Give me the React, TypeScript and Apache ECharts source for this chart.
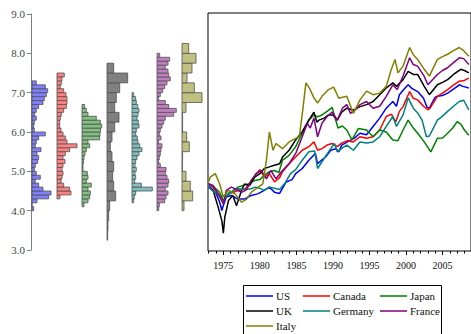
import React, { useEffect, useRef } from 'react';
import * as echarts from 'echarts';

const countries = ['US', 'Canada', 'Japan', 'UK', 'Germany', 'France', 'Italy'];
const lineColors = ['#0000ff', '#ff0000', '#008000', '#000000', '#008080', '#800080', '#808000'];
const histColors = ['#8080ff', '#ff8080', '#80c080', '#808080', '#80c0c0', '#c080c0', '#c0c080'];

// Histogram bins: first bin start, bin width, relative frequencies (bottom -> top)
const histStart = [4.0, 4.3, 4.1, 3.25, 4.2, 4.0, 4.0];
const histBinWidth = [0.1, 0.1, 0.1, 0.25, 0.1, 0.1, 0.25];
const usHist = [1.7, 0, 5, 16.7, 19, 11, 6.7, 3.3, 8.3, 4.3, 2.3, 3.3, 5.7, 6.7, 5, 9, 3.3, 4.3, 6.7, 13.3, 2.3, 1.7, 2.3, 4.3, 2.7, 4.3, 6.7, 11, 12.3, 14.3, 15.7, 13.3, 4.3];
const canadaHist = [3, 14, 12.7, 6.7, 4, 5, 6, 5, 6, 8, 6, 8.3, 12.7, 20, 10, 8.3, 6, 4, 2.7, 2.7, 3.3, 4.3, 6.7, 9.3, 10, 10, 9, 6.7, 3.3, 4.3, 5, 7.3];
const japanHist = [2, 6, 7.7, 8.3, 6, 9.3, 4.3, 6, 5.3, 1, 1, 1.5, 2, 3, 4.3, 7.7, 6, 17.7, 18, 18.5, 19.7, 18.3, 14.3, 6, 4.3, 2.7];
const ukHist = [0.7, 1, 1.7, 2.7, 8.7, 6.7, 5.7, 6.7, 5, 3.3, 5, 7.7, 12, 7.7, 9.3, 12.7, 20.7, 6.7];
const germanyHist = [1.7, 2.3, 3.7, 20.3, 9.3, 2.7, 3.7, 3, 4.3, 3, 3.7, 5, 7, 10, 7.7, 6, 5.3, 3.7, 4.3, 7, 6.3, 5, 6, 7, 5.7, 4.3, 3.7, 1.7];
const franceHist = [1.7, 2.3, 7.7, 9, 11, 8.3, 11, 11.7, 10, 8.3, 9, 3.3, 1.7, 2.3, 3.3, 4, 5, 1.7, 4, 2.3, 3.3, 5, 6.7, 8.3, 16.7, 19.3, 11.7, 8.3, 1.7, 3.3, 5.7, 7.7, 10, 13.3, 11.7, 11, 8.3, 11, 12.7, 2.7];
const italyHist = [2, 10.7, 8.3, 4, 0.4, 0.6, 7.3, 4.7, 0.6, 0.6, 4, 20, 12.3, 5, 10, 14, 6.7];
const hists = [usHist, canadaHist, japanHist, ukHist, germanyHist, franceHist, italyHist];

// Log price index series: [year, value]
const usSeries = [[1973.0, 4.65], [1973.5, 4.55], [1974.0, 4.45], [1974.5, 4.23], [1974.8, 4.02], [1975.0, 4.15], [1975.4, 4.36], [1976.1, 4.4], [1977.0, 4.31], [1977.9, 4.31], [1978.8, 4.4], [1979.7, 4.44], [1980.6, 4.53], [1981.3, 4.61], [1982.0, 4.48], [1982.7, 4.45], [1983.6, 4.74], [1984.4, 4.8], [1984.9, 4.95], [1985.8, 5.08], [1986.7, 5.29], [1987.6, 5.46], [1987.9, 5.2], [1988.5, 5.3], [1989.0, 5.37], [1989.7, 5.54], [1990.4, 5.58], [1990.8, 5.5], [1991.2, 5.67], [1992.0, 5.75], [1992.9, 5.84], [1993.7, 5.97], [1994.6, 5.93], [1995.5, 6.14], [1996.4, 6.35], [1997.3, 6.6], [1998.2, 6.77], [1998.7, 6.65], [1999.1, 6.94], [1999.6, 7.05], [2000.3, 7.19], [2000.8, 7.1], [2001.6, 7.02], [2002.4, 6.85], [2002.9, 6.62], [2003.2, 6.6], [2004.0, 6.88], [2004.3, 6.9], [2005.0, 6.92], [2005.7, 6.98], [2006.5, 7.08], [2007.3, 7.19], [2007.8, 7.15], [2008.6, 7.11]];
const canadaSeries = [[1973.0, 4.7], [1973.6, 4.6], [1974.3, 4.45], [1975.0, 4.27], [1975.7, 4.44], [1976.4, 4.48], [1977.1, 4.53], [1978.0, 4.57], [1978.8, 4.74], [1979.5, 4.95], [1980.0, 5.05], [1980.6, 4.86], [1981.3, 4.95], [1982.0, 4.74], [1982.7, 4.85], [1983.1, 5.0], [1984.0, 5.2], [1984.9, 5.37], [1985.8, 5.54], [1986.7, 5.63], [1987.4, 5.75], [1987.9, 5.54], [1988.5, 5.58], [1989.2, 5.67], [1989.9, 5.71], [1990.6, 5.63], [1991.2, 5.72], [1992.0, 5.78], [1992.8, 5.75], [1993.7, 5.88], [1994.6, 5.84], [1995.5, 5.88], [1996.4, 6.05], [1997.3, 6.39], [1998.0, 6.45], [1998.6, 6.25], [1999.1, 6.52], [1999.6, 6.64], [2000.5, 7.02], [2001.0, 6.85], [2001.6, 6.81], [2002.4, 6.65], [2003.0, 6.56], [2003.3, 6.6], [2004.3, 6.9], [2005.0, 6.98], [2005.7, 7.07], [2006.5, 7.18], [2007.3, 7.28], [2008.0, 7.3], [2008.6, 7.36]];
const japanSeries = [[1973.0, 4.7], [1973.7, 4.62], [1974.5, 4.48], [1975.0, 4.27], [1975.7, 4.45], [1976.4, 4.53], [1977.0, 4.61], [1977.7, 4.65], [1978.4, 4.69], [1979.3, 4.78], [1980.0, 4.8], [1980.6, 4.91], [1981.3, 5.0], [1982.0, 5.03], [1982.6, 4.98], [1983.1, 5.29], [1984.0, 5.41], [1984.9, 5.63], [1985.8, 5.97], [1986.7, 6.3], [1987.4, 6.43], [1987.9, 6.38], [1988.5, 6.43], [1989.2, 6.52], [1989.9, 6.62], [1990.3, 6.35], [1990.7, 6.1], [1991.3, 6.15], [1991.9, 6.05], [1992.6, 5.8], [1993.5, 6.09], [1994.6, 6.05], [1995.5, 5.88], [1996.4, 6.05], [1997.3, 6.0], [1998.2, 5.8], [1998.9, 5.78], [1999.6, 6.05], [2000.3, 6.3], [2001.0, 6.1], [2001.6, 5.97], [2002.5, 5.75], [2003.4, 5.5], [2004.3, 5.84], [2005.0, 5.85], [2005.7, 5.97], [2006.4, 6.1], [2007.0, 6.26], [2007.5, 6.2], [2008.0, 6.05], [2008.6, 5.92]];
const ukSeries = [[1973.0, 4.6], [1973.6, 4.53], [1974.3, 4.1], [1974.8, 3.76], [1975.0, 3.45], [1975.2, 3.85], [1975.7, 4.27], [1976.3, 4.4], [1976.8, 4.14], [1977.5, 4.53], [1977.9, 4.69], [1978.6, 4.65], [1979.3, 4.86], [1980.0, 4.95], [1980.6, 5.08], [1981.3, 5.12], [1982.0, 5.16], [1982.7, 5.2], [1983.1, 5.37], [1984.0, 5.54], [1984.9, 5.8], [1985.8, 6.01], [1986.7, 6.3], [1987.4, 6.5], [1987.8, 6.25], [1988.1, 6.3], [1988.8, 6.35], [1989.4, 6.43], [1990.0, 6.43], [1990.6, 6.3], [1991.2, 6.5], [1991.9, 6.6], [1992.8, 6.55], [1993.7, 6.64], [1994.6, 6.69], [1995.5, 6.77], [1996.4, 6.94], [1997.3, 7.11], [1998.2, 7.24], [1998.7, 7.15], [1999.6, 7.32], [2000.3, 7.53], [2001.0, 7.45], [2001.6, 7.45], [2002.5, 7.15], [2003.2, 6.94], [2004.3, 7.19], [2005.0, 7.25], [2005.7, 7.32], [2006.5, 7.45], [2007.5, 7.58], [2008.0, 7.55], [2008.6, 7.49]];
const germanySeries = [[1973.0, 4.62], [1973.6, 4.5], [1974.5, 4.4], [1975.0, 4.38], [1975.7, 4.42], [1976.4, 4.53], [1977.1, 4.57], [1978.0, 4.55], [1978.8, 4.57], [1979.3, 4.61], [1980.0, 4.58], [1980.6, 4.53], [1981.3, 4.61], [1982.0, 4.58], [1982.7, 4.55], [1983.4, 4.7], [1984.2, 4.95], [1984.9, 5.05], [1985.8, 5.29], [1986.7, 5.5], [1987.5, 5.52], [1987.9, 5.08], [1988.5, 5.25], [1989.4, 5.5], [1990.2, 5.71], [1990.6, 5.5], [1991.3, 5.6], [1991.9, 5.67], [1992.8, 5.54], [1993.7, 5.75], [1994.6, 5.72], [1995.5, 5.75], [1996.4, 5.88], [1997.3, 6.14], [1998.2, 6.39], [1998.7, 6.14], [1999.6, 6.43], [2000.3, 6.86], [2001.0, 6.6], [2001.6, 6.48], [2002.2, 6.3], [2002.8, 5.88], [2003.2, 5.9], [2004.3, 6.3], [2005.0, 6.4], [2005.7, 6.52], [2006.5, 6.65], [2007.3, 6.77], [2007.9, 6.8], [2008.6, 6.56]];
const franceSeries = [[1973.0, 4.69], [1973.6, 4.65], [1974.5, 4.36], [1975.0, 4.19], [1975.4, 4.53], [1976.1, 4.61], [1976.8, 4.55], [1977.5, 4.48], [1978.2, 4.55], [1978.8, 4.78], [1979.5, 4.95], [1980.2, 5.03], [1980.9, 4.82], [1981.5, 5.03], [1982.2, 4.82], [1983.1, 5.03], [1984.0, 5.2], [1984.9, 5.46], [1985.8, 5.88], [1986.5, 6.22], [1986.9, 6.1], [1987.4, 6.35], [1987.9, 5.88], [1988.5, 6.22], [1989.2, 6.39], [1989.9, 6.5], [1990.6, 6.3], [1991.3, 6.6], [1991.9, 6.69], [1992.4, 6.47], [1993.3, 6.6], [1993.7, 6.69], [1994.6, 6.77], [1995.5, 6.6], [1996.4, 6.65], [1997.3, 6.9], [1998.2, 7.19], [1998.8, 7.07], [1999.6, 7.41], [2000.5, 7.87], [2001.0, 7.7], [2001.6, 7.66], [2002.5, 7.4], [2003.0, 7.19], [2004.3, 7.45], [2005.0, 7.55], [2005.7, 7.62], [2006.5, 7.75], [2007.3, 7.87], [2007.9, 7.85], [2008.6, 7.7]];
const italySeries = [[1973.0, 4.75], [1973.2, 4.86], [1973.9, 4.95], [1974.5, 4.69], [1975.0, 4.36], [1975.7, 4.53], [1976.6, 4.44], [1977.5, 4.23], [1978.2, 4.31], [1978.8, 4.48], [1979.5, 4.57], [1980.4, 4.69], [1980.9, 5.29], [1981.3, 6.0], [1981.8, 5.54], [1982.2, 5.71], [1983.1, 5.58], [1984.0, 5.75], [1984.5, 5.8], [1985.4, 5.88], [1985.9, 6.6], [1986.3, 7.24], [1986.8, 7.1], [1987.4, 6.86], [1987.9, 6.73], [1988.5, 6.9], [1989.4, 7.07], [1990.1, 7.13], [1990.8, 6.85], [1991.9, 6.9], [1992.8, 6.47], [1993.7, 6.81], [1994.6, 7.03], [1995.5, 6.94], [1996.4, 6.98], [1997.3, 7.15], [1998.0, 7.58], [1998.5, 7.83], [1998.9, 7.49], [1999.6, 7.66], [2000.5, 8.13], [2001.0, 7.95], [2001.6, 7.83], [2002.5, 7.58], [2003.2, 7.41], [2004.3, 7.83], [2005.0, 7.9], [2005.7, 7.96], [2006.5, 8.05], [2007.3, 8.13], [2007.9, 8.05], [2008.6, 7.91]];
const lineSeries = [usSeries, canadaSeries, japanSeries, ukSeries, germanySeries, franceSeries, italySeries];

const yTicks = [3, 4, 5, 6, 7, 8, 9];
const majorYears = [1975, 1980, 1985, 1990, 1995, 2000, 2005];
const allYears = [1973, 1974, 1975, 1976, 1977, 1978, 1979, 1980, 1981, 1982, 1983, 1984, 1985, 1986, 1987, 1988, 1989, 1990, 1991, 1992, 1993, 1994, 1995, 1996, 1997, 1998, 1999, 2000, 2001, 2002, 2003, 2004, 2005, 2006, 2007, 2008];

const FONT = '"Liberation Serif", "Times New Roman", serif';
const LEN_SCALE = 25; // frequency units per histogram column

export default function App() {
  const ref = useRef<HTMLDivElement>(null);
  useEffect(() => {
    if (!ref.current) return;
    const chart = echarts.init(ref.current, undefined, { renderer: 'svg' });

    const histSeries = hists.map((h, i) => {
      const base = i + 0.04;
      const bw = histBinWidth[i];
      return {
        type: 'custom',
        name: countries[i] + ' distribution',
        xAxisIndex: 0,
        yAxisIndex: 0,
        silent: true,
        data: h.map((v, k) => [histStart[i] + k * bw, v]),
        renderItem: (params: any, api: any) => {
          const lo = api.value(0);
          const len = api.value(1);
          const a = api.coord([base, lo + bw]);
          const b = api.coord([base + len / LEN_SCALE, lo]);
          return {
            type: 'rect',
            shape: { x: a[0], y: a[1], width: b[0] - a[0], height: b[1] - a[1] },
            style: { fill: histColors[i], stroke: '#505050', lineWidth: 0.8 },
          };
        },
      };
    });

    const lines = lineSeries.map((d, i) => ({
      type: 'line',
      name: countries[i],
      xAxisIndex: 1,
      yAxisIndex: 1,
      data: d,
      symbol: 'none',
      showSymbol: false,
      lineStyle: { color: lineColors[i], width: 1.5 },
      itemStyle: { color: lineColors[i] },
    }));

    const legendBase = {
      orient: 'vertical',
      top: 290,
      height: 50,
      padding: 0,
      icon: 'rect',
      itemWidth: 27,
      itemHeight: 1.5,
      itemGap: 3,
      selectedMode: false,
      textStyle: { fontFamily: FONT, fontSize: 11, color: '#111', lineHeight: 12, padding: [0, 0, 0, -2] },
    };

    chart.setOption({
      animation: false,
      backgroundColor: '#fff',
      grid: [
        { left: 31, top: 14, width: 175, height: 236 },
        { left: 208, top: 13, width: 266, height: 238, show: true, borderColor: '#000', borderWidth: 1, backgroundColor: 'transparent' },
      ],
      xAxis: [
        { gridIndex: 0, type: 'value', min: 0, max: 7, show: false },
        {
          gridIndex: 1, type: 'value', min: 1972.9, max: 2008.9, position: 'bottom',
          axisLine: { show: false }, splitLine: { show: false },
          axisTick: { show: true, customValues: majorYears, length: 4, lineStyle: { color: '#000' } },
          axisLabel: { customValues: majorYears, formatter: (v: number) => String(v), fontFamily: FONT, fontSize: 10, color: '#111', margin: 9 },
        },
        {
          gridIndex: 1, type: 'value', min: 1972.9, max: 2008.9, position: 'bottom',
          axisLine: { show: false }, splitLine: { show: false }, axisLabel: { show: false },
          axisTick: { show: true, customValues: allYears, length: 2.5, lineStyle: { color: '#000' } },
        },
      ],
      yAxis: [
        {
          gridIndex: 0, type: 'value', min: 3, max: 9, interval: 1,
          axisLine: { show: true, lineStyle: { color: '#808080' } },
          axisTick: { show: true, length: 4, lineStyle: { color: '#808080' } },
          axisLabel: { formatter: (v: number) => v.toFixed(1), fontFamily: FONT, fontSize: 11, color: '#444', margin: 6, customValues: yTicks },
          splitLine: { show: false },
        },
        { gridIndex: 1, type: 'value', min: 3, max: 9, show: false },
      ],
      legend: [
        { ...legendBase, left: 246, data: ['US', 'UK', 'Italy'] },
        { ...legendBase, left: 303, data: ['Canada', 'Germany'] },
        { ...legendBase, left: 380, data: ['Japan', 'France'] },
      ],
      graphic: [
        { type: 'rect', silent: true, shape: { x: 243.5, y: 285.5, width: 198, height: 50 }, style: { fill: 'none', stroke: '#000', lineWidth: 1 } },
      ],
      series: [...histSeries, ...lines],
    });
    return () => chart.dispose();
  }, []);
  return <div ref={ref} style={{ position: 'absolute', left: 0, top: 0, width: 471, height: 334 }} />;
}
